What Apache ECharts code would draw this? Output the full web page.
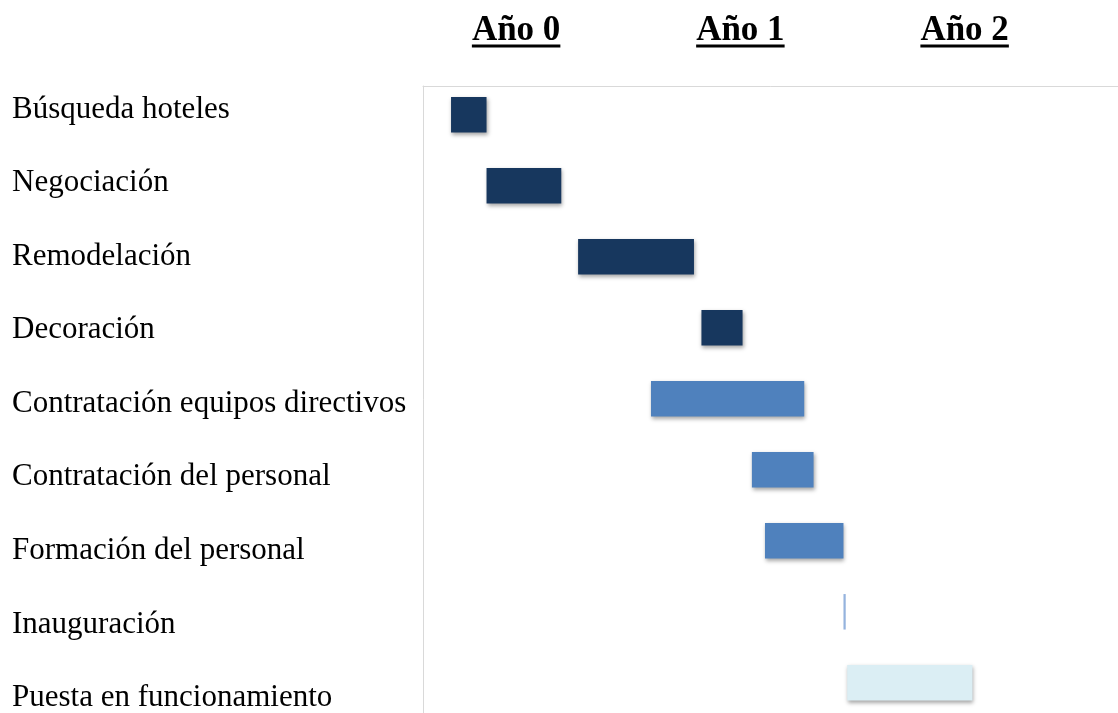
<!DOCTYPE html>
<html>
<head>
<meta charset="utf-8">
<script src="https://cdn.jsdelivr.net/npm/echarts@6/dist/echarts.min.js"></script>
<style>
  html, body { margin: 0; padding: 0; background: #fff; }
  #chart { width: 1118px; height: 713px; }
</style>
</head>
<body>
<div id="chart"></div>
<script>
// Project phases (top to bottom)
const tasks = [
  'Búsqueda hoteles',
  'Negociación',
  'Remodelación',
  'Decoración',
  'Contratación equipos directivos',
  'Contratación del personal',
  'Formación del personal',
  'Inauguración',
  'Puesta en funcionamiento'
];
// Start of each phase, in months from the beginning of the plan
const startMonth = [1.5, 3.4, 8.3, 14.9, 12.2, 17.6, 18.3, 22.5, 22.7];
// Length of each phase, in months
const durationMonths = [1.9, 4.0, 6.2, 2.2, 8.2, 3.3, 4.2, 0.12, 6.7];
// Colour group of each phase
const phaseGroup = ['obra', 'obra', 'obra', 'obra', 'equipo', 'equipo', 'equipo', 'hito', 'apertura'];
const groupColors = { obra: '#17375e', equipo: '#4f81bd', hito: '#95b3de', apertura: '#dbeef4' };
// Year headings across the top
const years = ['Año 0', 'Año 1', 'Año 2'];
const monthsShown = 36;

const serif = '"Liberation Serif", "Times New Roman", serif';
const chart = echarts.init(document.getElementById('chart'), null, { renderer: 'canvas' });

const shadow = {
  shadowBlur: 4,
  shadowOffsetX: 1,
  shadowOffsetY: 2,
  shadowColor: 'rgba(0,0,0,0.35)'
};

chart.setOption({
  animation: false,
  backgroundColor: '#fff',
  grid: [
    // bars
    { left: 423, top: 79.3, width: 672.75, height: 639, outerBoundsMode: 'none' },
    // task labels
    { left: 423, top: 72.9, width: 10, height: 661.8, outerBoundsMode: 'none' },
    // frame lines
    { left: 423, top: 86, width: 700, height: 640, outerBoundsMode: 'none' },
    // year headings
    { left: 404, top: 40, width: 672.75, height: 10, outerBoundsMode: 'none' }
  ],
  xAxis: [
    { gridIndex: 0, type: 'value', min: 0, max: monthsShown, show: false },
    { gridIndex: 1, type: 'value', min: 0, max: 1, show: false },
    {
      gridIndex: 2, type: 'value', position: 'top', min: 0, max: 1,
      axisLine: { show: true, lineStyle: { color: '#d9d9d9', width: 1 } },
      axisTick: { show: false }, axisLabel: { show: false }, splitLine: { show: false }
    },
    {
      gridIndex: 3, type: 'category', position: 'top', data: years,
      axisLine: { show: false }, axisTick: { show: false }, splitLine: { show: false },
      axisLabel: {
        interval: 0, margin: 9.3, verticalAlign: 'middle',
        fontFamily: serif, fontWeight: 'bold', fontSize: 35, color: '#000'
      }
    }
  ],
  yAxis: [
    { gridIndex: 0, type: 'category', data: tasks, inverse: true, show: false },
    {
      gridIndex: 1, type: 'category', data: tasks, inverse: true,
      axisLine: { show: false }, axisTick: { show: false }, splitLine: { show: false },
      axisLabel: {
        interval: 0, align: 'left', margin: 411,
        fontFamily: serif, fontSize: 31, color: '#000'
      }
    },
    {
      gridIndex: 2, type: 'value', position: 'left', inverse: true, min: 0, max: 1,
      axisLine: { show: true, lineStyle: { color: '#d9d9d9', width: 1 } },
      axisTick: { show: false }, axisLabel: { show: false }, splitLine: { show: false }
    },
    { gridIndex: 3, type: 'value', show: false, min: 0, max: 1 }
  ],
  series: [
    {
      name: 'inicio', type: 'bar', stack: 'gantt',
      xAxisIndex: 0, yAxisIndex: 0, barWidth: '50%',
      itemStyle: { color: 'transparent' },
      silent: true,
      data: startMonth
    },
    {
      name: 'duración', type: 'bar', stack: 'gantt',
      xAxisIndex: 0, yAxisIndex: 0, barWidth: '50%',
      data: durationMonths.map((d, i) => ({
        value: d,
        itemStyle: Object.assign({ color: groupColors[phaseGroup[i]] }, phaseGroup[i] === 'hito' ? {} : shadow)
      }))
    }
  ]
});

// underline under each year heading
const ctx = document.createElement('canvas').getContext('2d');
ctx.font = 'bold 35px ' + serif;
chart.setOption({
  graphic: years.map(y => {
    const cx = chart.convertToPixel({ xAxisIndex: 3, yAxisIndex: 3 }, [y, 0])[0];
    const w = ctx.measureText(y).width;
    return { type: 'rect', shape: { x: cx - w / 2, y: 44.5, width: w, height: 3 }, style: { fill: '#000' } };
  })
});
</script>
</body>
</html>
